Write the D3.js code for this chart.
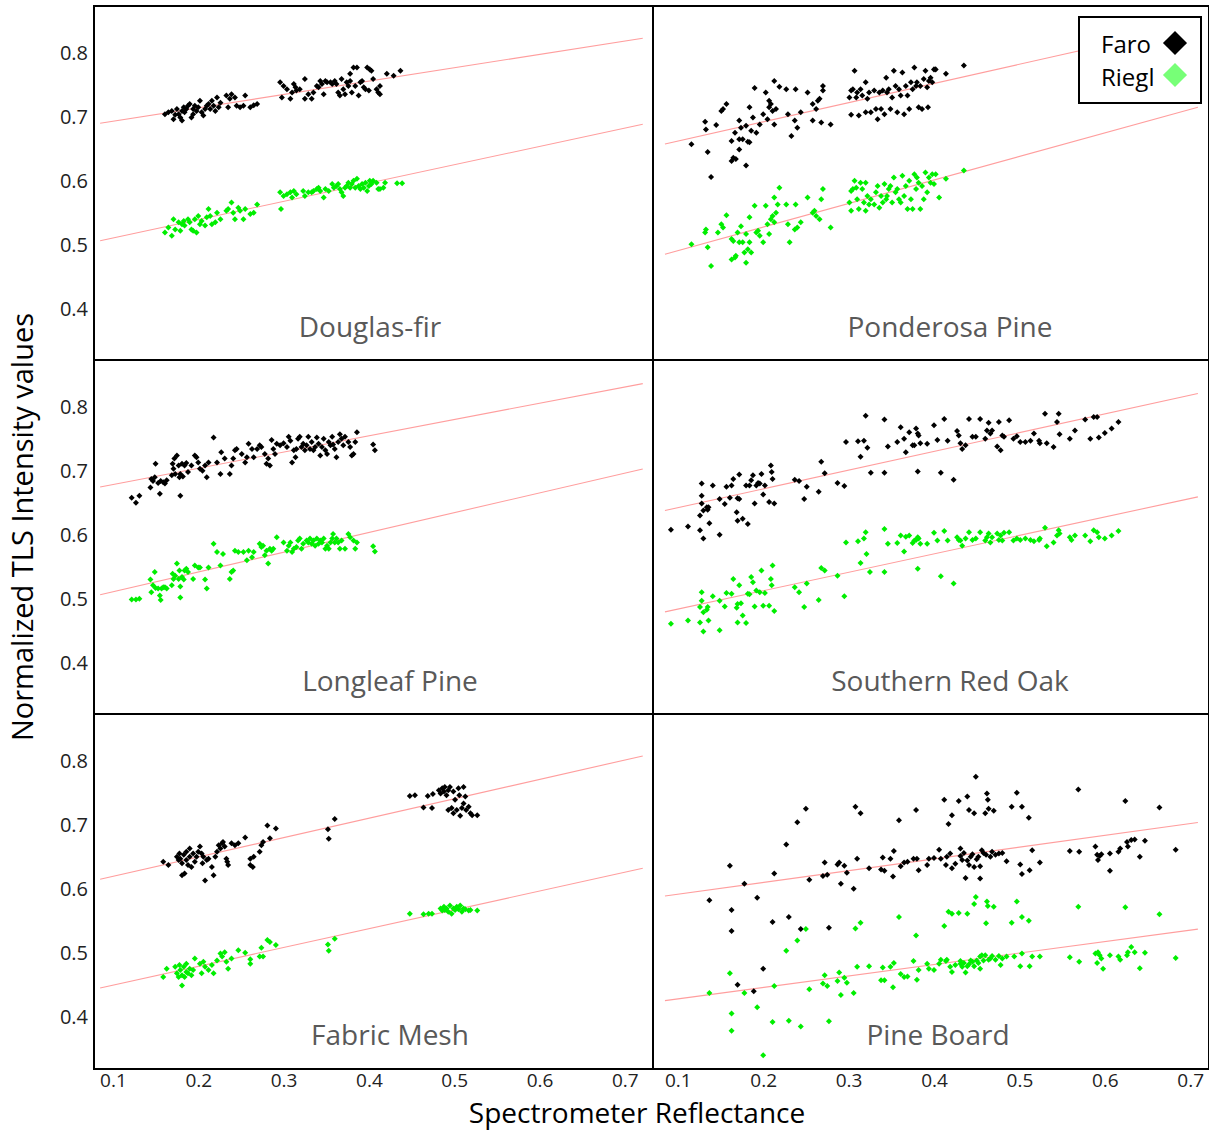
<!DOCTYPE html>
<html lang="en">
<head>
<meta charset="UTF-8">
<title>TLS intensity vs spectrometer reflectance</title>
<script src="https://d3js.org/d3.v7.min.js"></script>
<style>
  body { margin: 0; background: #fff; }
  text { font-family: "Open Sans", sans-serif; }
</style>
</head>
<body>
<script>
// ---- data ----
var panelNames = ["Douglas-fir", "Ponderosa Pine", "Longleaf Pine", "Southern Red Oak", "Fabric Mesh", "Pine Board"];
var seriesNames = ["Faro", "Riegl"];
var xTicks = [0.1, 0.2, 0.3, 0.4, 0.5, 0.6, 0.7];
var yTicks = [0.4, 0.5, 0.6, 0.7, 0.8];

// fitted lines y = a + b*x, one per panel
var faroIntercept = [0.672, 0.632, 0.653, 0.613, 0.589, 0.573];
var faroSlope     = [0.209, 0.300, 0.254, 0.293, 0.303, 0.184];
var rieglIntercept = [0.482, 0.454, 0.480, 0.455, 0.420, 0.410];
var rieglSlope     = [0.286, 0.368, 0.309, 0.288, 0.294, 0.179];

var douglasFaro = [[0.161,0.704],[0.165,0.707],[0.169,0.709],[0.171,0.696],[0.173,0.703],[0.175,0.712],[0.177,0.704],[0.179,0.699],[0.181,0.694],[0.181,0.709],[0.183,0.715],[0.184,0.707],[0.186,0.712],[0.188,0.717],[0.190,0.720],[0.192,0.699],[0.194,0.704],[0.194,0.712],[0.196,0.717],[0.198,0.709],[0.200,0.715],[0.202,0.725],[0.204,0.707],[0.206,0.702],[0.208,0.712],[0.210,0.717],[0.212,0.720],[0.214,0.712],[0.216,0.725],[0.218,0.717],[0.220,0.709],[0.222,0.730],[0.224,0.715],[0.226,0.722],[0.233,0.733],[0.235,0.715],[0.237,0.728],[0.239,0.735],[0.243,0.730],[0.245,0.717],[0.249,0.715],[0.253,0.717],[0.255,0.733],[0.261,0.715],[0.265,0.718],[0.269,0.720],
  [0.296,0.754],[0.298,0.730],[0.300,0.748],[0.304,0.743],[0.308,0.728],[0.310,0.738],[0.312,0.751],[0.314,0.746],[0.315,0.741],[0.319,0.743],[0.325,0.759],[0.325,0.728],[0.329,0.735],[0.333,0.728],[0.335,0.738],[0.339,0.748],[0.341,0.746],[0.343,0.756],[0.345,0.751],[0.347,0.735],[0.349,0.756],[0.351,0.754],[0.355,0.754],[0.357,0.751],[0.360,0.756],[0.362,0.751],[0.364,0.738],[0.366,0.733],[0.368,0.759],[0.370,0.743],[0.372,0.735],[0.374,0.754],[0.376,0.748],[0.378,0.756],[0.378,0.767],[0.380,0.738],[0.382,0.777],[0.384,0.748],[0.386,0.777],[0.388,0.733],[0.390,0.754],[0.392,0.756],[0.394,0.746],[0.396,0.743],[0.398,0.777],[0.400,0.741],[0.401,0.774],[0.403,0.772],[0.405,0.759],[0.409,0.743],[0.411,0.738],[0.413,0.735],[0.413,0.748],[0.421,0.767],[0.429,0.764],[0.437,0.772]];
var douglasRiegl = [[0.161,0.519],[0.165,0.527],[0.169,0.514],[0.171,0.540],[0.173,0.524],[0.177,0.535],[0.179,0.522],[0.181,0.532],[0.183,0.537],[0.184,0.530],[0.188,0.540],[0.190,0.535],[0.192,0.524],[0.194,0.522],[0.196,0.540],[0.198,0.519],[0.200,0.545],[0.202,0.532],[0.204,0.537],[0.208,0.530],[0.210,0.543],[0.212,0.556],[0.214,0.545],[0.216,0.532],[0.220,0.535],[0.222,0.550],[0.226,0.540],[0.233,0.553],[0.235,0.556],[0.239,0.566],[0.241,0.550],[0.243,0.540],[0.247,0.558],[0.249,0.553],[0.253,0.540],[0.255,0.556],[0.261,0.548],[0.265,0.550],[0.269,0.563],
  [0.296,0.582],[0.297,0.556],[0.300,0.576],[0.304,0.579],[0.308,0.582],[0.310,0.574],[0.312,0.584],[0.315,0.579],[0.323,0.584],[0.325,0.576],[0.329,0.582],[0.333,0.582],[0.335,0.584],[0.339,0.587],[0.341,0.589],[0.343,0.584],[0.347,0.574],[0.349,0.587],[0.353,0.584],[0.357,0.595],[0.359,0.589],[0.362,0.592],[0.364,0.595],[0.366,0.587],[0.368,0.582],[0.370,0.576],[0.372,0.589],[0.374,0.592],[0.376,0.597],[0.378,0.589],[0.380,0.595],[0.382,0.600],[0.384,0.589],[0.386,0.603],[0.388,0.592],[0.390,0.587],[0.392,0.595],[0.394,0.589],[0.396,0.597],[0.398,0.584],[0.400,0.592],[0.401,0.600],[0.403,0.595],[0.405,0.600],[0.409,0.597],[0.411,0.587],[0.413,0.587],[0.417,0.589],[0.419,0.597],[0.433,0.596],[0.439,0.596]];

var ponderosaFaro = [[0.116,0.657],[0.132,0.692],[0.133,0.680],[0.135,0.645],[0.139,0.606],[0.145,0.687],[0.151,0.709],[0.153,0.712],[0.157,0.720],[0.163,0.662],[0.163,0.631],[0.165,0.636],[0.167,0.675],[0.168,0.634],[0.172,0.665],[0.172,0.649],[0.172,0.694],[0.174,0.683],[0.176,0.665],[0.180,0.624],[0.180,0.686],[0.182,0.661],[0.184,0.660],[0.184,0.715],[0.186,0.678],[0.188,0.699],[0.190,0.745],[0.192,0.675],[0.196,0.688],[0.200,0.704],[0.203,0.738],[0.205,0.696],[0.207,0.715],[0.207,0.725],[0.209,0.720],[0.211,0.709],[0.213,0.688],[0.213,0.756],[0.215,0.712],[0.219,0.747],[0.227,0.743],[0.229,0.704],[0.233,0.670],[0.237,0.694],[0.238,0.743],[0.240,0.683],[0.244,0.707],[0.252,0.738],[0.258,0.720],[0.258,0.694],[0.262,0.712],[0.264,0.725],[0.266,0.728],[0.268,0.691],[0.270,0.741],[0.270,0.748],[0.279,0.688],
  [0.301,0.730],[0.303,0.703],[0.303,0.741],[0.305,0.743],[0.307,0.772],[0.309,0.730],[0.310,0.738],[0.312,0.702],[0.314,0.743],[0.316,0.733],[0.320,0.754],[0.320,0.707],[0.322,0.728],[0.324,0.738],[0.326,0.707],[0.330,0.741],[0.332,0.712],[0.334,0.696],[0.336,0.738],[0.338,0.712],[0.340,0.741],[0.342,0.704],[0.344,0.761],[0.345,0.738],[0.347,0.743],[0.349,0.712],[0.351,0.730],[0.353,0.772],[0.355,0.748],[0.357,0.707],[0.359,0.743],[0.361,0.733],[0.363,0.769],[0.365,0.704],[0.367,0.748],[0.369,0.733],[0.371,0.712],[0.373,0.754],[0.375,0.743],[0.377,0.777],[0.379,0.748],[0.380,0.754],[0.382,0.715],[0.384,0.748],[0.386,0.712],[0.388,0.759],[0.390,0.772],[0.392,0.746],[0.393,0.715],[0.394,0.756],[0.396,0.761],[0.398,0.754],[0.400,0.774],[0.402,0.774],[0.414,0.767],[0.435,0.780]];
var ponderosaRiegl = [[0.116,0.501],[0.132,0.519],[0.135,0.496],[0.133,0.524],[0.139,0.467],[0.147,0.519],[0.151,0.532],[0.153,0.527],[0.157,0.546],[0.163,0.509],[0.163,0.477],[0.165,0.506],[0.167,0.480],[0.168,0.483],[0.170,0.519],[0.172,0.504],[0.174,0.529],[0.176,0.504],[0.178,0.488],[0.180,0.517],[0.180,0.472],[0.182,0.493],[0.184,0.504],[0.184,0.543],[0.186,0.488],[0.190,0.561],[0.192,0.519],[0.194,0.522],[0.196,0.514],[0.200,0.504],[0.203,0.561],[0.205,0.532],[0.207,0.517],[0.209,0.540],[0.211,0.545],[0.213,0.574],[0.213,0.535],[0.215,0.550],[0.217,0.563],[0.219,0.589],[0.227,0.563],[0.229,0.532],[0.231,0.504],[0.237,0.524],[0.238,0.563],[0.240,0.527],[0.244,0.535],[0.252,0.574],[0.258,0.550],[0.260,0.553],[0.262,0.545],[0.266,0.540],[0.268,0.571],[0.270,0.587],[0.279,0.527],
  [0.301,0.566],[0.303,0.584],[0.303,0.553],[0.305,0.587],[0.307,0.600],[0.309,0.589],[0.310,0.571],[0.312,0.556],[0.314,0.597],[0.316,0.587],[0.318,0.566],[0.320,0.597],[0.320,0.553],[0.322,0.576],[0.324,0.563],[0.326,0.571],[0.330,0.563],[0.332,0.582],[0.334,0.592],[0.336,0.558],[0.338,0.576],[0.340,0.566],[0.342,0.595],[0.344,0.571],[0.345,0.576],[0.347,0.587],[0.349,0.592],[0.351,0.566],[0.353,0.605],[0.355,0.582],[0.357,0.587],[0.359,0.571],[0.361,0.566],[0.363,0.608],[0.365,0.576],[0.367,0.592],[0.369,0.556],[0.371,0.600],[0.373,0.571],[0.375,0.556],[0.377,0.610],[0.379,0.587],[0.380,0.605],[0.382,0.597],[0.384,0.556],[0.386,0.592],[0.388,0.571],[0.390,0.613],[0.392,0.582],[0.394,0.605],[0.396,0.597],[0.398,0.610],[0.400,0.595],[0.402,0.610],[0.406,0.574],[0.414,0.603],[0.435,0.616]];

var longleafFaro = [[0.122,0.658],[0.127,0.650],[0.131,0.661],[0.144,0.674],[0.145,0.687],[0.147,0.684],[0.149,0.690],[0.150,0.711],[0.153,0.681],[0.155,0.664],[0.156,0.684],[0.159,0.682],[0.161,0.680],[0.163,0.685],[0.169,0.693],[0.170,0.711],[0.171,0.703],[0.172,0.719],[0.173,0.695],[0.175,0.724],[0.177,0.708],[0.178,0.690],[0.179,0.661],[0.179,0.695],[0.181,0.711],[0.182,0.691],[0.184,0.708],[0.186,0.712],[0.188,0.698],[0.192,0.708],[0.196,0.724],[0.198,0.721],[0.200,0.713],[0.202,0.703],[0.205,0.700],[0.208,0.708],[0.210,0.690],[0.212,0.713],[0.218,0.752],[0.222,0.713],[0.226,0.695],[0.227,0.729],[0.231,0.719],[0.237,0.695],[0.239,0.708],[0.241,0.719],[0.243,0.732],[0.245,0.734],[0.251,0.726],[0.255,0.713],[0.257,0.721],[0.259,0.742],[0.263,0.734],[0.265,0.721],[0.269,0.734],[0.272,0.740],[0.274,0.737],[0.278,0.726],[0.280,0.711],[0.282,0.719],[0.284,0.708],[0.286,0.748],[0.288,0.734],[0.290,0.726],[0.292,0.742],[0.296,0.740],[0.300,0.743],[0.304,0.737],[0.306,0.753],[0.308,0.747],[0.310,0.713],[0.312,0.732],[0.314,0.721],[0.315,0.734],[0.317,0.750],[0.319,0.753],[0.321,0.737],[0.323,0.742],[0.325,0.732],[0.327,0.740],[0.329,0.753],[0.331,0.734],[0.333,0.745],[0.335,0.732],[0.337,0.737],[0.339,0.752],[0.341,0.742],[0.343,0.724],[0.345,0.737],[0.347,0.750],[0.349,0.732],[0.351,0.726],[0.353,0.745],[0.355,0.740],[0.357,0.753],[0.358,0.741],[0.360,0.734],[0.362,0.721],[0.364,0.745],[0.366,0.757],[0.368,0.750],[0.370,0.740],[0.372,0.753],[0.376,0.745],[0.378,0.737],[0.380,0.724],[0.382,0.726],[0.384,0.745],[0.386,0.760],[0.405,0.741],[0.407,0.732]];
var longleafRiegl = [[0.122,0.499],[0.127,0.499],[0.131,0.500],[0.144,0.530],[0.145,0.510],[0.147,0.521],[0.149,0.542],[0.150,0.517],[0.153,0.516],[0.155,0.505],[0.156,0.498],[0.157,0.516],[0.159,0.518],[0.161,0.518],[0.163,0.516],[0.169,0.521],[0.170,0.539],[0.171,0.531],[0.173,0.536],[0.175,0.555],[0.177,0.531],[0.178,0.544],[0.179,0.502],[0.179,0.519],[0.181,0.534],[0.183,0.530],[0.184,0.544],[0.186,0.547],[0.188,0.542],[0.194,0.531],[0.196,0.552],[0.200,0.549],[0.202,0.549],[0.208,0.530],[0.210,0.516],[0.212,0.549],[0.218,0.586],[0.222,0.573],[0.226,0.552],[0.229,0.570],[0.237,0.531],[0.239,0.542],[0.241,0.544],[0.243,0.575],[0.247,0.573],[0.253,0.573],[0.257,0.560],[0.259,0.575],[0.263,0.565],[0.265,0.573],[0.272,0.586],[0.274,0.581],[0.276,0.583],[0.278,0.568],[0.280,0.575],[0.282,0.555],[0.284,0.578],[0.286,0.575],[0.288,0.578],[0.292,0.596],[0.300,0.588],[0.304,0.575],[0.306,0.583],[0.308,0.588],[0.310,0.573],[0.312,0.578],[0.315,0.581],[0.317,0.591],[0.319,0.594],[0.321,0.578],[0.323,0.586],[0.327,0.591],[0.329,0.588],[0.331,0.594],[0.333,0.586],[0.335,0.591],[0.337,0.583],[0.339,0.594],[0.341,0.586],[0.343,0.591],[0.345,0.588],[0.347,0.594],[0.349,0.578],[0.351,0.583],[0.353,0.578],[0.355,0.588],[0.357,0.594],[0.358,0.601],[0.360,0.588],[0.362,0.594],[0.364,0.588],[0.366,0.578],[0.368,0.591],[0.372,0.578],[0.376,0.601],[0.378,0.596],[0.382,0.591],[0.384,0.578],[0.386,0.588],[0.405,0.582],[0.407,0.574]];

var oakFaro = [[0.092,0.608],[0.112,0.613],[0.126,0.607],[0.126,0.630],[0.128,0.680],[0.128,0.649],[0.128,0.661],[0.130,0.638],[0.130,0.594],[0.134,0.643],[0.135,0.639],[0.136,0.643],[0.137,0.618],[0.141,0.677],[0.149,0.600],[0.149,0.656],[0.155,0.648],[0.157,0.675],[0.161,0.658],[0.163,0.677],[0.165,0.687],[0.169,0.635],[0.170,0.657],[0.170,0.622],[0.172,0.656],[0.172,0.694],[0.176,0.625],[0.180,0.677],[0.182,0.617],[0.184,0.677],[0.186,0.685],[0.188,0.693],[0.190,0.649],[0.192,0.677],[0.194,0.681],[0.196,0.680],[0.198,0.695],[0.200,0.663],[0.202,0.677],[0.207,0.651],[0.209,0.708],[0.210,0.698],[0.211,0.687],[0.213,0.649],[0.237,0.686],[0.242,0.684],[0.248,0.656],[0.251,0.675],[0.265,0.667],[0.268,0.714],[0.272,0.696],[0.287,0.681],[0.295,0.676],[0.297,0.745],[0.311,0.746],[0.314,0.722],[0.318,0.747],[0.320,0.786],[0.322,0.736],[0.326,0.697],[0.342,0.780],[0.342,0.697],[0.346,0.738],[0.357,0.745],[0.361,0.768],[0.365,0.750],[0.367,0.729],[0.371,0.760],[0.375,0.740],[0.377,0.740],[0.379,0.766],[0.381,0.758],[0.381,0.699],[0.382,0.755],[0.384,0.743],[0.392,0.742],[0.400,0.771],[0.404,0.748],[0.408,0.697],[0.412,0.781],[0.416,0.747],[0.423,0.686],[0.427,0.762],[0.429,0.755],[0.431,0.743],[0.433,0.734],[0.437,0.740],[0.441,0.781],[0.445,0.753],[0.449,0.753],[0.454,0.781],[0.460,0.750],[0.462,0.763],[0.464,0.775],[0.466,0.758],[0.468,0.763],[0.474,0.738],[0.476,0.776],[0.478,0.732],[0.480,0.755],[0.482,0.753],[0.488,0.779],[0.493,0.750],[0.497,0.754],[0.501,0.745],[0.507,0.745],[0.513,0.747],[0.517,0.758],[0.523,0.747],[0.524,0.743],[0.530,0.789],[0.532,0.743],[0.540,0.737],[0.544,0.776],[0.546,0.789],[0.547,0.757],[0.559,0.750],[0.565,0.763],[0.577,0.780],[0.583,0.750],[0.587,0.784],[0.591,0.784],[0.593,0.752],[0.600,0.759],[0.608,0.766],[0.616,0.776]];
var oakRiegl = [[0.092,0.461],[0.112,0.466],[0.126,0.463],[0.126,0.487],[0.128,0.510],[0.128,0.497],[0.130,0.449],[0.130,0.479],[0.134,0.483],[0.135,0.487],[0.136,0.466],[0.141,0.504],[0.149,0.451],[0.149,0.497],[0.155,0.488],[0.157,0.509],[0.163,0.508],[0.165,0.531],[0.169,0.486],[0.170,0.492],[0.170,0.463],[0.172,0.521],[0.174,0.493],[0.176,0.474],[0.180,0.462],[0.182,0.508],[0.184,0.507],[0.186,0.534],[0.188,0.526],[0.190,0.488],[0.192,0.513],[0.196,0.510],[0.198,0.544],[0.200,0.489],[0.202,0.509],[0.207,0.489],[0.209,0.531],[0.210,0.521],[0.211,0.552],[0.213,0.481],[0.237,0.518],[0.242,0.510],[0.248,0.487],[0.251,0.524],[0.265,0.498],[0.268,0.548],[0.272,0.544],[0.287,0.536],[0.295,0.504],[0.297,0.588],[0.311,0.590],[0.314,0.556],[0.318,0.594],[0.320,0.604],[0.321,0.570],[0.325,0.542],[0.342,0.609],[0.342,0.542],[0.346,0.586],[0.357,0.587],[0.361,0.599],[0.365,0.574],[0.367,0.597],[0.371,0.599],[0.375,0.587],[0.377,0.591],[0.379,0.592],[0.381,0.596],[0.381,0.547],[0.382,0.594],[0.384,0.586],[0.392,0.586],[0.400,0.603],[0.404,0.591],[0.408,0.535],[0.412,0.606],[0.416,0.591],[0.423,0.524],[0.427,0.596],[0.429,0.592],[0.431,0.591],[0.433,0.583],[0.437,0.594],[0.441,0.604],[0.445,0.592],[0.449,0.594],[0.454,0.604],[0.460,0.591],[0.462,0.596],[0.464,0.602],[0.466,0.588],[0.468,0.596],[0.474,0.602],[0.476,0.592],[0.478,0.599],[0.480,0.591],[0.482,0.603],[0.488,0.604],[0.493,0.591],[0.497,0.594],[0.501,0.592],[0.507,0.594],[0.513,0.592],[0.517,0.590],[0.523,0.592],[0.524,0.594],[0.530,0.611],[0.532,0.582],[0.540,0.588],[0.544,0.599],[0.546,0.607],[0.547,0.602],[0.559,0.596],[0.561,0.592],[0.565,0.599],[0.577,0.599],[0.583,0.590],[0.587,0.607],[0.591,0.604],[0.593,0.596],[0.600,0.594],[0.608,0.599],[0.616,0.606]];

var fabricFaro = [[0.159,0.642],[0.165,0.637],[0.175,0.650],[0.177,0.645],[0.178,0.655],[0.179,0.647],[0.181,0.640],[0.181,0.621],[0.183,0.653],[0.184,0.624],[0.186,0.645],[0.186,0.658],[0.188,0.637],[0.190,0.650],[0.190,0.663],[0.192,0.634],[0.194,0.655],[0.196,0.642],[0.198,0.650],[0.200,0.658],[0.202,0.666],[0.204,0.655],[0.205,0.640],[0.206,0.650],[0.208,0.613],[0.210,0.645],[0.212,0.647],[0.216,0.634],[0.218,0.621],[0.220,0.650],[0.222,0.658],[0.224,0.668],[0.226,0.663],[0.228,0.671],[0.229,0.673],[0.231,0.666],[0.233,0.647],[0.234,0.642],[0.235,0.637],[0.239,0.671],[0.243,0.668],[0.247,0.671],[0.255,0.680],[0.261,0.647],[0.261,0.637],[0.264,0.634],[0.265,0.650],[0.272,0.658],[0.274,0.668],[0.276,0.673],[0.281,0.699],[0.284,0.679],[0.291,0.694],[0.352,0.693],[0.353,0.678],[0.360,0.709],[0.448,0.745],[0.454,0.746],[0.464,0.727],[0.469,0.745],[0.474,0.726],[0.475,0.748],[0.482,0.754],[0.484,0.749],[0.486,0.757],[0.488,0.752],[0.489,0.759],[0.491,0.746],[0.493,0.754],[0.493,0.723],[0.495,0.759],[0.497,0.726],[0.499,0.752],[0.499,0.718],[0.501,0.739],[0.503,0.723],[0.505,0.757],[0.506,0.746],[0.507,0.714],[0.509,0.726],[0.511,0.759],[0.511,0.733],[0.513,0.744],[0.514,0.723],[0.517,0.728],[0.519,0.718],[0.521,0.715],[0.527,0.715]];
var fabricRiegl = [[0.159,0.462],[0.163,0.475],[0.173,0.478],[0.175,0.468],[0.177,0.462],[0.178,0.481],[0.179,0.473],[0.181,0.449],[0.181,0.465],[0.183,0.478],[0.184,0.462],[0.186,0.470],[0.186,0.483],[0.188,0.468],[0.190,0.475],[0.192,0.465],[0.194,0.473],[0.196,0.491],[0.202,0.483],[0.204,0.468],[0.206,0.486],[0.208,0.478],[0.212,0.473],[0.216,0.481],[0.218,0.468],[0.222,0.488],[0.226,0.499],[0.228,0.494],[0.231,0.501],[0.233,0.486],[0.235,0.475],[0.239,0.491],[0.247,0.504],[0.255,0.500],[0.261,0.483],[0.261,0.490],[0.272,0.494],[0.274,0.508],[0.276,0.494],[0.281,0.520],[0.284,0.517],[0.291,0.512],[0.352,0.513],[0.353,0.503],[0.360,0.522],[0.448,0.561],[0.464,0.560],[0.470,0.561],[0.474,0.561],[0.484,0.569],[0.486,0.566],[0.488,0.572],[0.489,0.567],[0.491,0.569],[0.493,0.564],[0.495,0.574],[0.497,0.561],[0.499,0.569],[0.501,0.567],[0.503,0.572],[0.505,0.568],[0.507,0.574],[0.509,0.564],[0.511,0.569],[0.513,0.568],[0.517,0.566],[0.519,0.567],[0.527,0.566]];

var boardFaro = [[0.137,0.582],[0.161,0.636],[0.163,0.567],[0.163,0.534],[0.170,0.450],[0.178,0.608],[0.189,0.440],[0.193,0.586],[0.200,0.475],[0.211,0.548],[0.213,0.624],[0.227,0.669],[0.230,0.556],[0.240,0.704],[0.244,0.537],[0.250,0.725],[0.254,0.614],[0.270,0.620],[0.272,0.641],[0.275,0.622],[0.277,0.539],[0.287,0.638],[0.289,0.641],[0.291,0.608],[0.295,0.636],[0.298,0.625],[0.306,0.600],[0.308,0.728],[0.310,0.647],[0.314,0.718],[0.324,0.632],[0.338,0.630],[0.340,0.649],[0.342,0.628],[0.349,0.647],[0.352,0.619],[0.353,0.659],[0.359,0.707],[0.361,0.635],[0.365,0.641],[0.369,0.642],[0.376,0.647],[0.379,0.723],[0.380,0.647],[0.382,0.629],[0.392,0.637],[0.394,0.647],[0.400,0.648],[0.406,0.661],[0.408,0.647],[0.412,0.739],[0.414,0.637],[0.415,0.650],[0.417,0.701],[0.419,0.655],[0.421,0.632],[0.421,0.715],[0.425,0.639],[0.429,0.737],[0.431,0.663],[0.431,0.651],[0.433,0.645],[0.435,0.656],[0.437,0.617],[0.439,0.744],[0.439,0.644],[0.441,0.723],[0.441,0.637],[0.443,0.650],[0.445,0.654],[0.447,0.718],[0.447,0.634],[0.449,0.775],[0.450,0.646],[0.452,0.650],[0.454,0.616],[0.454,0.635],[0.456,0.660],[0.458,0.656],[0.460,0.718],[0.461,0.653],[0.462,0.749],[0.463,0.739],[0.464,0.725],[0.466,0.650],[0.468,0.658],[0.470,0.722],[0.472,0.653],[0.476,0.655],[0.480,0.656],[0.485,0.643],[0.491,0.728],[0.497,0.750],[0.501,0.638],[0.503,0.728],[0.503,0.623],[0.511,0.711],[0.512,0.629],[0.515,0.660],[0.524,0.641],[0.559,0.659],[0.569,0.755],[0.570,0.658],[0.589,0.666],[0.591,0.653],[0.592,0.645],[0.594,0.651],[0.596,0.654],[0.606,0.655],[0.606,0.628],[0.616,0.658],[0.618,0.663],[0.624,0.737],[0.626,0.673],[0.627,0.666],[0.631,0.676],[0.635,0.677],[0.641,0.650],[0.647,0.675],[0.664,0.727],[0.683,0.661]];
var boardRiegl = [[0.137,0.437],[0.161,0.468],[0.163,0.405],[0.163,0.378],[0.178,0.437],[0.193,0.415],[0.200,0.340],[0.211,0.392],[0.213,0.448],[0.227,0.503],[0.230,0.394],[0.240,0.519],[0.244,0.385],[0.250,0.537],[0.254,0.443],[0.270,0.452],[0.272,0.465],[0.275,0.448],[0.277,0.393],[0.287,0.456],[0.289,0.469],[0.291,0.434],[0.295,0.461],[0.298,0.453],[0.306,0.437],[0.308,0.538],[0.310,0.478],[0.314,0.547],[0.324,0.479],[0.338,0.457],[0.340,0.477],[0.342,0.457],[0.349,0.478],[0.352,0.446],[0.353,0.484],[0.359,0.556],[0.361,0.467],[0.365,0.462],[0.369,0.463],[0.376,0.487],[0.379,0.527],[0.380,0.458],[0.382,0.473],[0.392,0.483],[0.394,0.475],[0.400,0.473],[0.406,0.483],[0.408,0.489],[0.412,0.542],[0.414,0.487],[0.415,0.489],[0.417,0.564],[0.419,0.478],[0.421,0.561],[0.421,0.470],[0.425,0.481],[0.429,0.562],[0.431,0.487],[0.431,0.483],[0.433,0.478],[0.435,0.484],[0.437,0.469],[0.439,0.561],[0.439,0.479],[0.441,0.482],[0.443,0.488],[0.445,0.486],[0.447,0.576],[0.447,0.479],[0.449,0.587],[0.450,0.488],[0.452,0.484],[0.454,0.494],[0.454,0.475],[0.456,0.496],[0.458,0.488],[0.460,0.496],[0.461,0.546],[0.462,0.580],[0.463,0.573],[0.464,0.489],[0.466,0.491],[0.468,0.495],[0.470,0.572],[0.472,0.489],[0.476,0.495],[0.478,0.481],[0.480,0.491],[0.485,0.494],[0.491,0.547],[0.494,0.494],[0.497,0.580],[0.501,0.479],[0.503,0.556],[0.503,0.499],[0.511,0.550],[0.512,0.479],[0.515,0.494],[0.524,0.494],[0.559,0.493],[0.569,0.572],[0.570,0.486],[0.589,0.499],[0.591,0.484],[0.592,0.501],[0.594,0.496],[0.596,0.491],[0.598,0.475],[0.606,0.496],[0.616,0.494],[0.618,0.489],[0.624,0.571],[0.626,0.496],[0.627,0.501],[0.631,0.509],[0.635,0.501],[0.641,0.476],[0.647,0.500],[0.664,0.560],[0.683,0.492]];

var faroData  = [douglasFaro, ponderosaFaro, longleafFaro, oakFaro, fabricFaro, boardFaro];
var rieglData = [douglasRiegl, ponderosaRiegl, longleafRiegl, oakRiegl, fabricRiegl, boardRiegl];

// ---- layout ----
var w = 1209, h = 1130;
var colEdges = [[95, 653], [653, 1209]];
var rowTops = [6, 360, 714];
var rowH = 354;
var xDomains = [[0.079, 0.733], [0.071, 0.722]];
var yDomain = [0.32, 0.873];
var fitRange = [[0.085, 0.721], [0.085, 0.709]];
var titleX = [370, 950, 390, 950, 390, 938];
var pointColor = ["#000000", "#00ee00"];
var legendColor = ["#000000", "#77ff77"];

var svg = d3.select("body").append("svg")
    .attr("width", w)
    .attr("height", h);

var xScales = colEdges.map(function(c, i) {
    return d3.scaleLinear().domain(xDomains[i]).range(c);
});
var yScales = rowTops.map(function(t) {
    return d3.scaleLinear().domain(yDomain).range([t + rowH, t]);
});

var dot = d3.symbol().type(d3.symbolSquare).size(18);

panelNames.forEach(function(name, i) {
    var col = i % 2, row = Math.floor(i / 2);
    var x = xScales[col], y = yScales[row];

    svg.append("clipPath").attr("id", "clip" + i)
        .append("rect")
        .attr("x", colEdges[col][0]).attr("y", rowTops[row])
        .attr("width", colEdges[col][1] - colEdges[col][0]).attr("height", rowH);

    var g = svg.append("g").attr("clip-path", "url(#clip" + i + ")");

    // fit lines
    var line = d3.line().x(function(d) { return x(d[0]); }).y(function(d) { return y(d[1]); });
    [[faroIntercept[i], faroSlope[i]], [rieglIntercept[i], rieglSlope[i]]].forEach(function(f) {
        var pts = fitRange[col].map(function(v) { return [v, f[0] + f[1] * v]; });
        g.append("path").datum(pts)
            .attr("d", line)
            .attr("fill", "none")
            .attr("stroke", "#ff9e9e")
            .attr("stroke-width", 1.1);
    });

    [faroData[i], rieglData[i]].forEach(function(data, s) {
        g.selectAll(".s" + s)
            .data(data)
            .enter()
            .append("path")
            .attr("class", "s" + s)
            .attr("d", dot)
            .attr("transform", function(d) {
                return "translate(" + x(d[0]) + "," + y(d[1]) + ") rotate(45)";
            })
            .attr("fill", pointColor[s]);
    });

    svg.append("text")
        .attr("x", titleX[i])
        .attr("y", rowTops[row] + 331)
        .attr("text-anchor", "middle")
        .attr("font-size", "28px")
        .attr("fill", "#595959")
        .text(name);

    if (col === 0) {
        var ya = svg.append("g")
            .attr("transform", "translate(" + colEdges[0][0] + ",0)")
            .call(d3.axisLeft(y).tickValues(yTicks).tickSize(0).tickPadding(7).tickFormat(d3.format(".1f")));
        ya.select(".domain").remove();
        ya.selectAll("text").attr("font-size", "20px").attr("font-family", "Open Sans, sans-serif").attr("fill", "#222");
    }
    if (row === 2) {
        var xa = svg.append("g")
            .attr("transform", "translate(0," + (rowTops[2] + rowH + 1) + ")")
            .call(d3.axisBottom(x).tickValues(xTicks).tickSize(0).tickPadding(4).tickFormat(d3.format(".1f")));
        xa.select(".domain").remove();
        xa.selectAll("text").attr("font-size", "19px").attr("font-family", "Open Sans, sans-serif").attr("fill", "#222");
    }
});

// panel frame
var frame = svg.append("g").attr("stroke", "#000").attr("stroke-width", 2).attr("fill", "none");
frame.append("rect")
    .attr("x", colEdges[0][0] - 1).attr("y", rowTops[0])
    .attr("width", colEdges[1][1] - colEdges[0][0] + 1).attr("height", rowH * 3 + 1);
frame.append("line")
    .attr("x1", colEdges[0][1]).attr("x2", colEdges[0][1])
    .attr("y1", rowTops[0]).attr("y2", rowTops[2] + rowH + 1);
[rowTops[1], rowTops[2]].forEach(function(t) {
    frame.append("line")
        .attr("x1", colEdges[0][0]).attr("x2", colEdges[1][1])
        .attr("y1", t).attr("y2", t);
});

// legend
var lg = svg.append("g").attr("transform", "translate(1079,17)");
lg.append("rect").attr("width", 122).attr("height", 86)
    .attr("fill", "#fff").attr("stroke", "#000").attr("stroke-width", 2);
var bigDot = d3.symbol().type(d3.symbolSquare).size(290);
seriesNames.forEach(function(n, s) {
    lg.append("text")
        .attr("x", 22).attr("y", 36 + s * 33)
        .attr("font-size", "24px").attr("fill", "#000")
        .text(n);
    lg.append("path")
        .attr("d", bigDot)
        .attr("transform", "translate(96," + (26 + s * 32) + ") rotate(45)")
        .attr("fill", legendColor[s]);
});

// axis titles
svg.append("text")
    .attr("x", 637).attr("y", 1123)
    .attr("text-anchor", "middle")
    .attr("font-size", "28px")
    .text("Spectrometer Reflectance");
svg.append("text")
    .attr("transform", "translate(33,527) rotate(-90)")
    .attr("text-anchor", "middle")
    .attr("font-size", "29px")
    .text("Normalized TLS Intensity values");
</script>
</body>
</html>
